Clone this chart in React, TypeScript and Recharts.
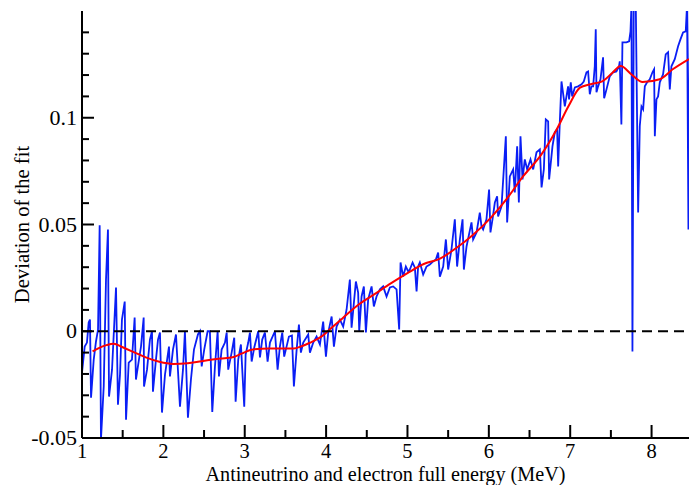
import { LineChart, Line, XAxis, YAxis, ReferenceLine } from 'recharts'

// energy (MeV) vs deviation
const deviation: [number, number][] = [
  [1.0, -0.0194], [1.033, -0.0072], [1.061, -0.0053], [1.082, 0.0041], [1.098, 0.0055], [1.111, -0.0311],
  [1.144, -0.0133], [1.172, -0.0048], [1.197, 0.0008], [1.217, 0.0496], [1.233, -0.0508], [1.267, -0.0259],
  [1.295, 0.0242], [1.319, 0.0477], [1.332, -0.0306], [1.369, -0.018], [1.418, 0.0205], [1.442, -0.0344],
  [1.467, -0.0203], [1.491, 0.0055], [1.525, 0.0139], [1.541, -0.0414], [1.574, -0.0147], [1.614, -0.0133],
  [1.647, 0.0064], [1.663, -0.0226], [1.7, -0.0133], [1.725, -0.0072], [1.758, 0.0064], [1.762, -0.0259],
  [1.799, -0.018], [1.835, -0.0039], [1.86, 0], [1.872, -0.0283], [1.909, -0.0133], [1.934, -0.0039],
  [1.958, -0.0006], [1.983, -0.0381], [2.02, -0.0203], [2.069, -0.0072], [2.081, -0.0212], [2.118, -0.0086],
  [2.155, -0.0015], [2.204, -0.0353], [2.241, -0.018], [2.265, 0], [2.302, -0.0405], [2.339, -0.0226],
  [2.376, -0.0086], [2.425, -0.0015], [2.45, 0], [2.471, -0.0165], [2.502, -0.0086], [2.544, 0],
  [2.572, 0], [2.601, -0.0378], [2.634, -0.0165], [2.667, 0], [2.683, -0.0212], [2.716, -0.0086],
  [2.757, -0.0053], [2.778, -0.0006], [2.797, -0.018], [2.839, -0.01], [2.871, -0.003], [2.888, -0.033],
  [2.92, -0.0133], [2.953, -0.0062], [2.994, -0.0353], [3.011, -0.0109], [3.043, -0.0053], [3.064, -0.0006],
  [3.085, -0.0142], [3.117, -0.0076], [3.166, 0], [3.187, -0.0123], [3.215, -0.0039], [3.248, -0.0006],
  [3.281, -0.0142], [3.31, -0.0053], [3.371, 0], [3.404, -0.018], [3.432, -0.0072], [3.461, -0.0006],
  [3.485, -0.0119], [3.543, -0.0025], [3.58, -0.002], [3.604, -0.0259], [3.638, -0.0086], [3.666, 0.0031],
  [3.69, -0.01], [3.719, -0.0053], [3.78, -0.0015], [3.801, -0.01], [3.842, -0.0053], [3.883, -0.0025],
  [3.924, -0.0062], [3.964, 0.0045], [3.998, -0.0119], [4.026, -0.0006], [4.068, 0.0069], [4.096, -0.0072],
  [4.129, 0.0022], [4.17, 0.0055], [4.21, 0.0022], [4.252, 0.0102], [4.292, 0.0242], [4.313, 0.0017],
  [4.366, 0.0233], [4.394, 0.0181], [4.407, 0], [4.436, 0.0163], [4.464, 0.021], [4.489, -0.0006],
  [4.517, 0.0149], [4.559, 0.021], [4.587, 0.0116], [4.62, 0.0163], [4.661, 0.0196], [4.701, 0.021],
  [4.743, 0.0163], [4.784, 0.0205], [4.824, 0.021], [4.866, 0.0196], [4.898, 0.0008], [4.915, 0.0322],
  [4.947, 0.0256], [4.98, 0.0303], [5.009, 0.028], [5.029, 0.0289], [5.063, 0.0322], [5.091, 0.0298],
  [5.112, 0.0186], [5.131, 0.0303], [5.152, 0.0322], [5.193, 0.0266], [5.234, 0.0303], [5.275, 0.0313],
  [5.316, 0.0327], [5.349, 0.0336], [5.377, 0.0369], [5.398, 0.0256], [5.439, 0.0303], [5.472, 0.043],
  [5.5, 0.0289], [5.541, 0.0383], [5.582, 0.0524], [5.61, 0.0303], [5.644, 0.043], [5.677, 0.0524],
  [5.693, 0.0289], [5.726, 0.0397], [5.787, 0.051], [5.807, 0.043], [5.849, 0.0463], [5.889, 0.0556],
  [5.91, 0.0491], [5.93, 0.0477], [5.971, 0.0524], [6.003, 0.0664], [6.02, 0.0463], [6.045, 0.0524],
  [6.074, 0.0603], [6.102, 0.0632], [6.114, 0.0538], [6.156, 0.0585], [6.209, 0.0913], [6.225, 0.051],
  [6.258, 0.0725], [6.299, 0.0758], [6.319, 0.065], [6.348, 0.0866], [6.369, 0.0603], [6.389, 0.0913],
  [6.414, 0.0711], [6.442, 0.0805], [6.471, 0.0758], [6.512, 0.0805], [6.545, 0.0758], [6.586, 0.0838],
  [6.627, 0.0852], [6.648, 0.0674], [6.676, 0.0758], [6.7, 0.0992], [6.729, 0.0983], [6.741, 0.0711],
  [6.782, 0.0866], [6.81, 0.0931], [6.839, 0.0946], [6.852, 0.0772], [6.872, 0.0978], [6.893, 0.117],
  [6.934, 0.1053], [6.974, 0.1147], [6.986, 0.1086], [7.007, 0.1166], [7.024, 0.11], [7.057, 0.1142],
  [7.097, 0.1147], [7.139, 0.1157], [7.167, 0.117], [7.2, 0.1213], [7.22, 0.1217], [7.241, 0.111],
  [7.261, 0.1147], [7.282, 0.1147], [7.302, 0.1241], [7.314, 0.1414], [7.323, 0.1119], [7.343, 0.1147],
  [7.372, 0.118], [7.404, 0.1283], [7.417, 0.1091], [7.446, 0.1133], [7.486, 0.1194], [7.527, 0.1213],
  [7.568, 0.1217], [7.6, 0.1241], [7.609, 0.1264], [7.629, 0.0969], [7.642, 0.1353], [7.691, 0.1353],
  [7.724, 0.1358], [7.741, 0.1405], [7.753, 0.153], [7.765, -0.0095], [7.781, 0.153], [7.806, 0.153],
  [7.835, 0.0556], [7.855, 0.096], [7.876, 0.1053], [7.896, 0.1039], [7.917, 0.1147], [7.945, 0.1166],
  [7.978, 0.118], [8.011, 0.1213], [8.031, 0.1227], [8.04, 0.0913], [8.06, 0.1086], [8.08, 0.11],
  [8.101, 0.1166], [8.141, 0.1203], [8.174, 0.1297], [8.203, 0.1307], [8.224, 0.1133], [8.244, 0.1241],
  [8.285, 0.1274], [8.326, 0.1335], [8.355, 0.1367], [8.387, 0.14], [8.42, 0.1405], [8.436, 0.153],
  [8.453, 0.0477], [8.47, 0.155],
]

// smooth fit curve
const fit: [number, number][] = [
  [1.13, -0.0094], [1.2, -0.008], [1.3, -0.0065], [1.389, -0.0058], [1.5, -0.0075], [1.65, -0.01],
  [1.8, -0.0125], [1.95, -0.0143], [2.12, -0.0153], [2.3, -0.015], [2.47, -0.014], [2.7, -0.0128],
  [2.85, -0.0122], [2.96, -0.0105], [3.1, -0.0085], [3.3, -0.0081], [3.6, -0.0081], [3.7, -0.007],
  [3.8, -0.0054], [3.95, -0.0023], [4.05, 0.001], [4.2, 0.006], [4.4, 0.0125], [4.6, 0.0175],
  [4.8, 0.0225], [5.0, 0.0272], [5.2, 0.0315], [5.4, 0.034], [5.6, 0.039], [5.8, 0.045],
  [6.02, 0.053], [6.22, 0.062], [6.42, 0.0725], [6.64, 0.0825], [6.84, 0.095], [6.98, 0.1055],
  [7.12, 0.1141], [7.25, 0.1157], [7.4, 0.1172], [7.52, 0.1211], [7.62, 0.1242], [7.75, 0.1204],
  [7.89, 0.1167], [8.1, 0.118], [8.26, 0.1227], [8.46, 0.1275],
]

const xTicks = [1, 1.5, 2, 2.5, 3, 3.5, 4, 4.5, 5, 5.5, 6, 6.5, 7, 7.5, 8]
const yTicks = [-0.04, -0.03, -0.02, -0.01, 0, 0.01, 0.02, 0.03, 0.04, 0.05, 0.06, 0.07, 0.08, 0.09, 0.1, 0.11, 0.12, 0.13, 0.14]
const yLabels: Record<string, string> = { '-0.05': '-0.05', '0': '0', '0.05': '0.05', '0.1': '0.1' }

const devData = deviation.map(([x, y]) => ({ x, y }))
const fitData = fit.map(([x, y]) => ({ x, y }))

const FONT = 'Liberation Serif'
const txt = { fontFamily: FONT, fill: '#000' }

const isMajorX = (v: number) => Number.isInteger(v)
const isMajorY = (v: number) => Math.abs(v * 20 - Math.round(v * 20)) < 1e-6

function BottomTick({ x, y, payload }: any) {
  const major = isMajorX(payload.value)
  return (
    <g>
      <line x1={x} x2={x} y1={y} y2={y - (major ? 13 : 8)} stroke="#000" strokeWidth={2} />
      {major && (
        <text x={x} y={y + 20} textAnchor="middle" style={{ ...txt, fontSize: 20.5 }}>
          {payload.value}
        </text>
      )}
    </g>
  )
}

function TopTick({ x, y, payload }: any) {
  const major = isMajorX(payload.value)
  return <line x1={x} x2={x} y1={y} y2={y + (major ? 13 : 8)} stroke="#000" strokeWidth={2} />
}

function LeftTick({ x, y, payload }: any) {
  const v = payload.value
  const major = isMajorY(v)
  const label = yLabels[String(Math.round(v * 100) / 100)]
  return (
    <g>
      <line x1={x} x2={x + (major ? 12 : 7)} y1={y} y2={y} stroke="#000" strokeWidth={2} />
      {label !== undefined && (
        <text x={x - 5} y={y + 7} textAnchor="end" style={{ ...txt, fontSize: 22 }}>
          {label}
        </text>
      )}
    </g>
  )
}

function RightTick({ x, y, payload }: any) {
  const major = isMajorY(payload.value)
  return <line x1={x} x2={x - (major ? 12 : 7)} y1={y} y2={y} stroke="#000" strokeWidth={2} />
}

export default function App() {
  return (
    <div style={{ position: 'absolute', left: 0, top: 0, background: '#fff', fontFamily: FONT }}>
      <LineChart width={690} height={485} margin={{ top: 11, right: 1, bottom: 0, left: 0 }}>
        <XAxis
          dataKey="x"
          type="number"
          domain={[1, 8.46]}
          allowDataOverflow
          ticks={xTicks}
          interval={0}
          tickSize={0}
          tickMargin={0}
          tickLine={false}
          tick={<BottomTick />}
          height={47}
          axisLine={{ stroke: '#000', strokeWidth: 2 }}
          label={{
            value: 'Antineutrino and electron full energy (MeV)',
            position: 'insideBottom',
            offset: 4.5,
            style: { ...txt, fontSize: 20.2 },
          }}
        />
        <XAxis
          xAxisId="top"
          orientation="top"
          dataKey="x"
          type="number"
          domain={[1, 8.46]}
          allowDataOverflow
          ticks={xTicks}
          interval={0}
          tickSize={0}
          tickMargin={0}
          tickLine={false}
          tick={<TopTick />}
          height={0}
          axisLine={{ stroke: '#000', strokeWidth: 2 }}
        />
        <YAxis
          type="number"
          domain={[-0.05, 0.15]}
          allowDataOverflow
          ticks={[-0.05, ...yTicks]}
          interval={0}
          tickSize={0}
          tickMargin={0}
          tickLine={false}
          tick={<LeftTick />}
          width={82}
          axisLine={{ stroke: '#000', strokeWidth: 2 }}
          label={{
            value: 'Deviation of the fit',
            angle: -90,
            position: 'insideLeft',
            offset: 22,
            style: { ...txt, fontSize: 20.6, textAnchor: 'middle' },
          }}
        />
        <YAxis
          yAxisId="right"
          orientation="right"
          type="number"
          domain={[-0.05, 0.15]}
          allowDataOverflow
          ticks={yTicks}
          interval={0}
          tickSize={0}
          tickMargin={0}
          tickLine={false}
          tick={<RightTick />}
          width={0}
          axisLine={{ stroke: '#000', strokeWidth: 2 }}
        />
        <Line
          data={devData}
          dataKey="y"
          type="linear"
          stroke="#0a1ef5"
          strokeWidth={1.8}
          dot={false}
          isAnimationActive={false}
        />
        <Line
          data={fitData}
          dataKey="y"
          type="monotone"
          stroke="#ff0000"
          strokeWidth={2}
          dot={false}
          isAnimationActive={false}
        />
        <ReferenceLine y={0} stroke="#000" strokeWidth={2} strokeDasharray="10 6" />
      </LineChart>
    </div>
  )
}
